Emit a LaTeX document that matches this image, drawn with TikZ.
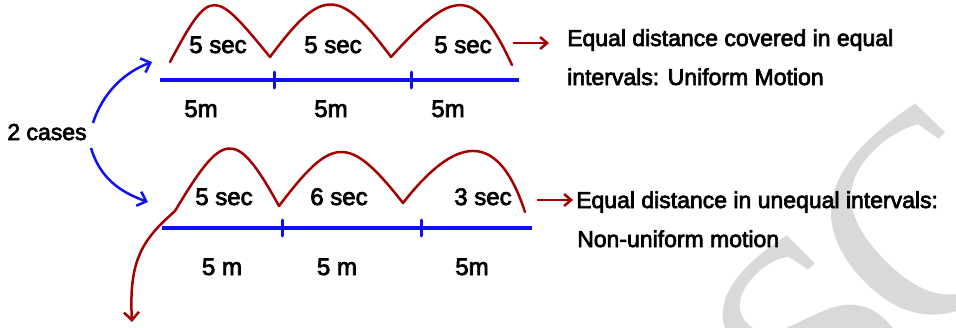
\documentclass[tikz,border=0pt]{standalone}
\usepackage{fontspec}
\setmainfont{Liberation Sans}[RawFeature={embolden=3}]
\newfontfamily\wmfont{Liberation Serif}
\usetikzlibrary{arrows.meta}
\definecolor{arcred}{RGB}{165,0,0}
\definecolor{lineblue}{RGB}{15,15,245}
\begin{document}
\begin{tikzpicture}[x=1pt,y=-1pt,
  lbl/.style={font=\fontsize{24}{28}\selectfont, anchor=base, inner sep=0pt},
  desc/.style={font=\fontsize{23}{28}\selectfont, anchor=base west, inner sep=0pt},
  hop/.style={draw=arcred, line width=2.5pt, line cap=round, line join=round},
  track/.style={draw=lineblue, line width=3.5pt},
  tickmark/.style={draw=lineblue, line width=3pt, line cap=round},
  redarrow/.style={draw=arcred, line width=2.5pt, -{Straight Barb[length=7pt,width=12pt,line width=2.5pt]}},
  bluearrow/.style={draw=lineblue, line width=2.5pt, -{Straight Barb[length=8pt,width=15pt,line width=2.5pt]}},
  wmark/.style={text=black!15, font=\wmfont\fontsize{290}{290}\selectfont, inner sep=0pt, rotate=45},
]
\useasboundingbox (0,0) rectangle (956,327);
\begin{scope}
\clip (0,0) rectangle (956,327);
\node[wmark] (wmS) at (815,338) {S};
\node[wmark] (wmC) at (925,222) {C};
\end{scope}

% left label and branch arrows
\node[lbl, font=\fontsize{23}{28}\selectfont] (cases) at (47,140) {2 cases};
\coordinate (b1s) at (93,123);
\coordinate (b1e) at (152,62);
\coordinate (b2s) at (91,148);
\coordinate (b2e) at (148,202);
\draw[bluearrow] (b1s) .. controls (103,92) and (125,72) .. (b1e);
\draw[bluearrow] (b2s) .. controls (100,178) and (120,192) .. (b2e);

% ---------- top case ----------
\coordinate (A0) at (170,62);
\coordinate (V1) at (270,57);
\coordinate (V2) at (391,57);
\coordinate (AE) at (512,65);
\draw[hop] (A0) .. controls (211,-15) and (214,-11) .. (V1)
                .. controls (322,-13) and (339,-13) .. (V2)
                .. controls (452,-10) and (474,-17) .. (AE);
\coordinate (L1s) at (160,80);
\coordinate (L1e) at (519,80);
\draw[track] (L1s) -- (L1e);
\coordinate (t1a) at (274,72); \coordinate (t1b) at (274,88);
\coordinate (t2a) at (411,72); \coordinate (t2b) at (411,88);
\draw[tickmark] (t1a) -- (t1b);
\draw[tickmark] (t2a) -- (t2b);
\node[lbl] (s11) at (218,53) {5 sec};
\node[lbl] (s12) at (333,53) {5 sec};
\node[lbl] (s13) at (463,53) {5 sec};
\node[lbl] (m11) at (201,117) {5m};
\node[lbl] (m12) at (331,117) {5m};
\node[lbl] (m13) at (448,117) {5m};
\coordinate (r1s) at (513,43);
\coordinate (r1e) at (549,43);
\draw[redarrow] (r1s) -- (r1e);
\node[desc] (d11) at (567,46) {Equal distance covered in equal};
\node[desc] (d12) at (567,85) {intervals: Uniform Motion};

% ---------- bottom case ----------
\coordinate (B0) at (175,211);
\coordinate (W1) at (279,206);
\coordinate (W2) at (403,203);
\coordinate (BE) at (525,212);
\draw[hop] (B0) .. controls (223,131) and (235,126) .. (W1)
                .. controls (332,136) and (348,133) .. (W2)
                .. controls (446,148) and (494,117) .. (BE);
\coordinate (dn) at (132,322);
\draw[hop, -{Straight Barb[length=8pt,width=15pt,line width=2.5pt]}] (B0) -- (163,222) .. controls (140,245) and (129,266) .. (dn);
\coordinate (L2s) at (162,228);
\coordinate (L2e) at (532,228);
\draw[track] (L2s) -- (L2e);
\coordinate (t3a) at (282,220); \coordinate (t3b) at (282,236);
\coordinate (t4a) at (421,220); \coordinate (t4b) at (421,236);
\draw[tickmark] (t3a) -- (t3b);
\draw[tickmark] (t4a) -- (t4b);
\node[lbl] (s21) at (224,205) {5 sec};
\node[lbl] (s22) at (339,205) {6 sec};
\node[lbl] (s23) at (483,205) {3 sec};
\node[lbl] (m21) at (222,275) {5 m};
\node[lbl] (m22) at (337,275) {5 m};
\node[lbl] (m23) at (472,275) {5m};
\coordinate (r2s) at (537,200);
\coordinate (r2e) at (573,200);
\draw[redarrow] (r2s) -- (r2e);
\node[desc] (d21) at (576,208) {Equal distance in unequal intervals:};
\node[desc] (d22) at (577,247) {Non-uniform motion};
\end{tikzpicture}
\end{document}
